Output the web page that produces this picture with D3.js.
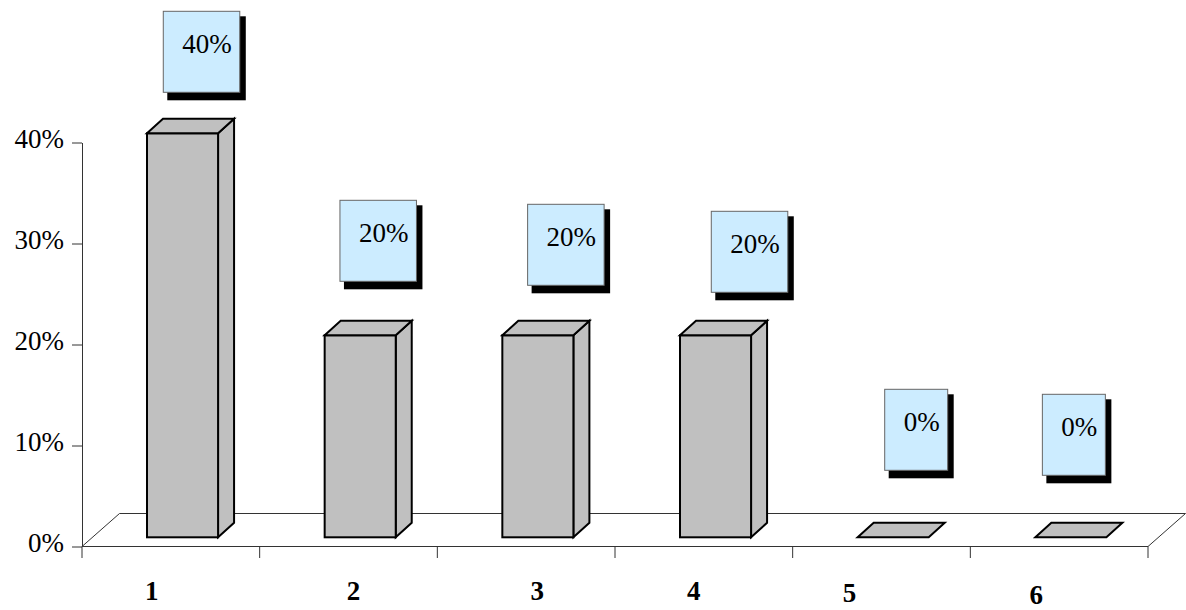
<!DOCTYPE html>
<html>
<head>
<meta charset="utf-8">
<script src="https://cdn.jsdelivr.net/npm/d3@7"></script>
<style>
  html, body { margin: 0; padding: 0; background: #fff; }
  svg { display: block; }
  svg text { font-family: "Liberation Serif", "Times New Roman", serif; }
</style>
</head>
<body>
<svg id="chart" width="1186" height="610"></svg>
<script>
// Data
const categories = ["1", "2", "3", "4", "5", "6"];
const values = [0.40, 0.20, 0.20, 0.20, 0.00, 0.00];
const yTicks = [0, 0.1, 0.2, 0.3, 0.4];

// Hand placement of the value callouts and category labels (px)
const calloutNudge = [[19, -41], [18, -54], [28, -50], [34, -43], [23, -67], [3, -62]];
const catLabelNudge = [[-19, 0], [5, 0], [11, 0], [-10, 0], [-32, 1.5], [-23, 4]];

const FONT = "'Liberation Serif', 'Times New Roman', serif";
const FS = 27;

const svg = d3.select("#chart");

const left = 82, right = 1148, floorY = 546.5;
const floorDepth = [37.5, -33];     // depth vector of the floor plane
const barShift = [11.7, -9.2];      // front face of bars sits this far into the floor
const barDepth = [16, -14.5];       // depth of each box

const x = d3.scaleBand().domain(categories).range([left, right])
  .paddingInner(0.6).paddingOuter(0.3);
const y = d3.scaleLinear().domain([0, 0.4]).range([floorY, 142.5]);

// Floor plane
const floor = [
  [left, floorY], [right, floorY],
  [right + floorDepth[0], floorY + floorDepth[1]],
  [left + floorDepth[0], floorY + floorDepth[1]]
];
svg.append("polygon")
  .attr("points", floor.map(p => p.join(",")).join(" "))
  .attr("fill", "#fff").attr("stroke", "#333").attr("stroke-width", 1);

// Category separators under the floor
const step = x.step();
svg.append("g").selectAll("line")
  .data(d3.range(categories.length + 1))
  .join("line")
  .attr("x1", i => left + i * step).attr("x2", i => left + i * step)
  .attr("y1", floorY).attr("y2", floorY + 11.5)
  .attr("stroke", "#333").attr("stroke-width", 1);

// Value axis
const yAxis = d3.axisLeft(y).tickValues(yTicks)
  .tickFormat(d3.format(".0%")).tickSize(10).tickSizeOuter(0).tickPadding(8);
const gy = svg.append("g").attr("transform", `translate(${left},0)`).call(yAxis)
  .attr("font-family", FONT).attr("font-size", FS);
gy.select(".domain").attr("stroke", "#333");
gy.selectAll(".tick line").attr("stroke", "#333");
gy.selectAll(".tick text")
  .attr("font-family", FONT)
  .attr("font-size", FS).attr("fill", "#000").attr("dy", "0.17em");

// Bars as boxes
const bars = svg.append("g").selectAll("g")
  .data(values.map((v, i) => ({ v, c: categories[i], i })))
  .join("g");

bars.each(function (d) {
  const g = d3.select(this);
  const x0 = x(d.c) + barShift[0];
  const x1 = x0 + x.bandwidth();
  const yb = y(0) + barShift[1];
  const yt = y(d.v) + barShift[1];
  const [dx, dy] = barDepth;
  const style = s => s.attr("fill", "#c0c0c0").attr("stroke", "#000")
    .attr("stroke-width", 2).attr("stroke-linejoin", "miter");
  if (d.v > 0) {
    g.append("polygon")
      .attr("points", [[x1, yt], [x1 + dx, yt + dy], [x1 + dx, yb + dy], [x1, yb]]
        .map(p => p.join(",")).join(" "))
      .call(style);
    g.append("rect")
      .attr("x", x0).attr("y", yt).attr("width", x1 - x0).attr("height", yb - yt)
      .call(style);
  }
  g.append("polygon")
    .attr("points", [[x0, yt], [x1, yt], [x1 + dx, yt + dy], [x0 + dx, yt + dy]]
      .map(p => p.join(",")).join(" "))
    .call(style);
});

// Value callouts
const callouts = svg.append("g").selectAll("g")
  .data(values.map((v, i) => ({ v, c: categories[i], i })))
  .join("g");

callouts.each(function (d) {
  const g = d3.select(this);
  const cx = x(d.c) + barShift[0] + x.bandwidth() / 2 + calloutNudge[d.i][0];
  const bottom = y(d.v) + barShift[1] + calloutNudge[d.i][1];
  const h = 81;
  const top = bottom - h;
  const shadow = g.append("rect");
  const box = g.append("rect");
  const t = g.append("text")
    .attr("font-family", FONT)
    .attr("font-size", FS).attr("fill", "#000")
    .attr("text-anchor", "end")
    .text(d3.format(".0%")(d.v));
  const w = t.node().getComputedTextLength() + 27;
  const bx = cx - w / 2;
  shadow.attr("x", bx + 4).attr("y", top + 5).attr("width", w + 2).attr("height", h + 3)
    .attr("fill", "#000");
  box.attr("x", bx).attr("y", top).attr("width", w).attr("height", h)
    .attr("fill", "#ccecff").attr("stroke", "#666").attr("stroke-width", 1);
  t.attr("x", bx + w - 8).attr("y", top + 42);
});

// Category labels
svg.append("g").selectAll("text")
  .data(categories)
  .join("text")
  .attr("x", (c, i) => x(c) + x.bandwidth() / 2 + catLabelNudge[i][0])
  .attr("y", (c, i) => 600 + catLabelNudge[i][1])
  .attr("text-anchor", "middle")
  .attr("font-family", FONT)
  .attr("font-size", FS).attr("font-weight", "bold").attr("fill", "#000")
  .text(c => c);
</script>
</body>
</html>
